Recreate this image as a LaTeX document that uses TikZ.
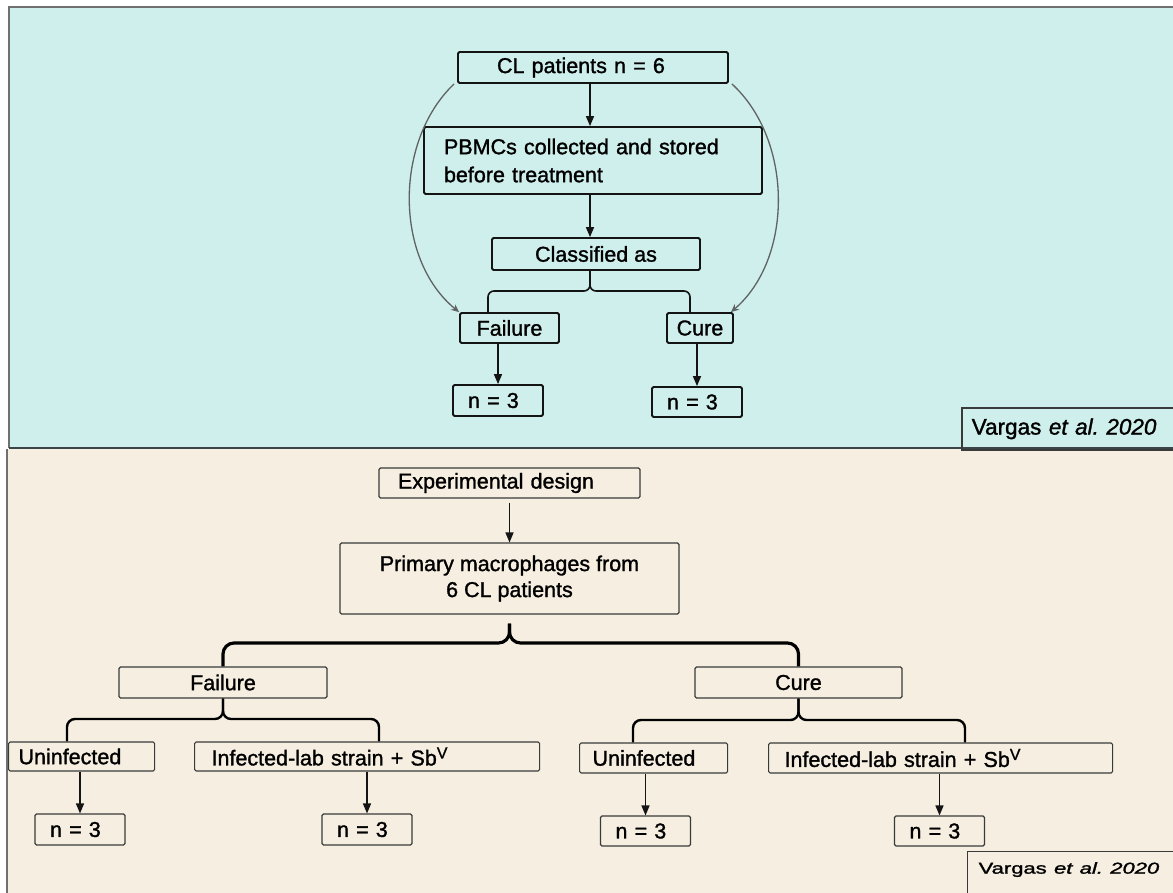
\documentclass[tikz,border=0pt]{standalone}
\usepackage{fontspec}
\setmainfont{Liberation Sans}[FakeBold=1.3]
\usetikzlibrary{arrows.meta,calc}
\definecolor{topbg}{HTML}{CEEFEB}
\definecolor{botbg}{HTML}{F6EFE1}
\definecolor{framegray}{HTML}{707070}
\definecolor{panelsep}{HTML}{3B4446}
\definecolor{tline}{HTML}{141414}
\definecolor{bline}{HTML}{3A3A3A}
\definecolor{curvegray}{HTML}{5F6363}
\newcommand{\supV}{\raisebox{7pt}{\fontsize{16}{16}\selectfont V}}

\begin{document}
\frenchspacing
\begin{tikzpicture}[x=1pt,y=-1pt,
  every node/.style={font=\fontsize{21.5}{27}\selectfont, inner sep=0pt},
  tbox/.style={draw=tline, line width=1.8pt, rounded corners=1.5pt},
  bbox/.style={draw=bline, line width=1.1pt, rounded corners=1.5pt},
  nthree/.style={text width=60pt, inner xsep=15pt, align=left, minimum height=31pt},
  arr/.style={draw=tline, line width=1.5pt, -{Triangle[width=8pt,length=10pt]}},
  garr/.style={draw=curvegray, line width=1.3pt, -{Stealth[width=7pt,length=8pt]}},
  tbrace/.style={draw=tline, line width=1.6pt, rounded corners=6pt},
  bigbrace/.style={draw=black, line width=3.2pt, rounded corners=11pt},
  subbrace/.style={draw=black, line width=2.4pt, rounded corners=8pt}
]
\useasboundingbox (0,0) rectangle (1173,892);
\fill[white] (0,0) rectangle (1173,892);

% panels
\fill[topbg] (9,7) rectangle (1190,448);
\draw[framegray, line width=2.5pt] (1190,7) -- (9,7) -- (9,448);
\fill[botbg] (7,449) rectangle (1190,900);
\draw[framegray, line width=2.5pt] (7,449) -- (7,900);
\draw[panelsep, line width=2.2pt] (9,448) -- (1190,448);

% ---- upper panel ----
\node[tbox, minimum height=31pt, text width=192pt, inner xsep=39pt, align=left] (cl) at (593,67.5) {CL patients n = 6};
\node[tbox, minimum height=67pt, text width=298pt, inner xsep=20pt, align=left,
      font=\fontsize{21.5}{28}\selectfont] (pbmc) at (593,160.5) {PBMCs collected and stored\\before treatment};
\node[tbox, minimum width=208pt, minimum height=32pt] (cls) at (596,254) {Classified as};
\node[tbox, minimum width=99pt, minimum height=30pt] (fail) at (509.5,328) {Failure};
\node[tbox, minimum width=66pt, minimum height=30pt] (cure) at (700,328) {Cure};
\node[tbox, nthree] (n3a) at (498,400.5) {n = 3};
\node[tbox, nthree, minimum height=30pt] (n3b) at (697,402) {n = 3};
\node[draw=bline, line width=1.5pt, anchor=north west, minimum height=42pt, text width=210pt,
      inner xsep=10pt, align=left, font=\fontsize{22.5}{27}\selectfont] (vt) at (961,407) {Vargas \textit{et al. 2020}};

\draw[arr] (cl.south -| 590,0) -- (pbmc.north -| 590,0);
\draw[arr] (pbmc.south -| 590,0) -- (cls.north -| 590,0);
\draw[arr] (fail.south -| n3a.north) -- (n3a.north);
\draw[arr] (cure.south -| n3b.north) -- (n3b.north);

\draw[tbrace] (cls.south -| 590,0) |- (488,291) -- (fail.north -| 488,0);
\draw[tbrace] (cls.south -| 590,0) |- (690,291) -- (cure.north -| 690,0);

\draw[garr] ([xshift=-3pt]cl.south west) .. controls +(-60,57) and +(-65,-53) .. (fail.north west);
\draw[garr] ([xshift=3pt]cl.south east) .. controls +(62,57) and +(62,-53) .. ([xshift=-3pt]cure.north east);

% ---- lower panel ----
\node[bbox, minimum height=30pt, text width=223pt, inner xsep=19pt, align=left] (exp) at (509.5,483) {Experimental design};
\node[bbox, minimum width=339pt, minimum height=71pt, align=center,
      font=\fontsize{21.5}{26}\selectfont] (prim) at (509.5,578.5) {Primary macrophages from\\6 CL patients};
\node[bbox, minimum width=208pt, minimum height=31pt] (failB) at (223,682.5) {Failure};
\node[bbox, minimum width=207pt, minimum height=31pt] (cureB) at (798.5,682.5) {Cure};
\node[bbox, anchor=west, minimum height=29pt, text width=126pt, inner xsep=10pt, align=left] (uA) at (8,756.5) {Uninfected};
\node[bbox, anchor=west, minimum height=29pt, text width=311pt, inner xsep=17pt, align=left] (iA) at (194,756.5) {Infected-lab strain + Sb\supV};
\node[bbox, anchor=west, minimum height=30pt, text width=122pt, inner xsep=13pt, align=left] (uB) at (579,758) {Uninfected};
\node[bbox, anchor=west, minimum height=30pt, text width=312pt, inner xsep=16pt, align=left] (iB) at (768,758) {Infected-lab strain + Sb\supV};
\node[bbox, nthree] (n3c) at (80,829.5) {n = 3};
\node[bbox, nthree] (n3d) at (367,829.5) {n = 3};
\node[bbox, nthree, minimum height=30pt] (n3e) at (645.5,831) {n = 3};
\node[bbox, nthree, minimum height=30pt] (n3f) at (939.5,831) {n = 3};
\node[draw=bline, line width=1.3pt, anchor=north west, minimum height=48pt, text width=200pt,
      inner xsep=11pt, align=left, text height=12pt, text depth=16pt,
      font=\fontsize{22}{27}\selectfont] (vb) at (967,851) {\scalebox{1}[0.72]{Vargas \textit{et al. 2020}}};

\draw[arr] ([yshift=-4pt]exp.south) -- (prim.north);
\draw[arr] (uA.south -| n3c.north) -- (n3c.north);
\draw[arr] (iA.south -| n3d.north) -- (n3d.north);
\draw[arr] (uB.south -| n3e.north) -- (n3e.north);
\draw[arr] (iB.south -| n3f.north) -- (n3f.north);

\draw[bigbrace] ([yshift=-9pt]prim.south) |- (223,643) -- (failB.north);
\draw[bigbrace] ([yshift=-9pt]prim.south) |- (798.5,643) -- (cureB.north);
\draw[subbrace] (failB.south) |- (67,719) -- (uA.north -| 67,0);
\draw[subbrace] (failB.south) |- (379,719) -- (iA.north -| 379,0);
\draw[subbrace] (cureB.south) |- (633,720) -- (uB.north -| 633,0);
\draw[subbrace] (cureB.south) |- (965,720) -- (iB.north -| 965,0);
\end{tikzpicture}
\end{document}
